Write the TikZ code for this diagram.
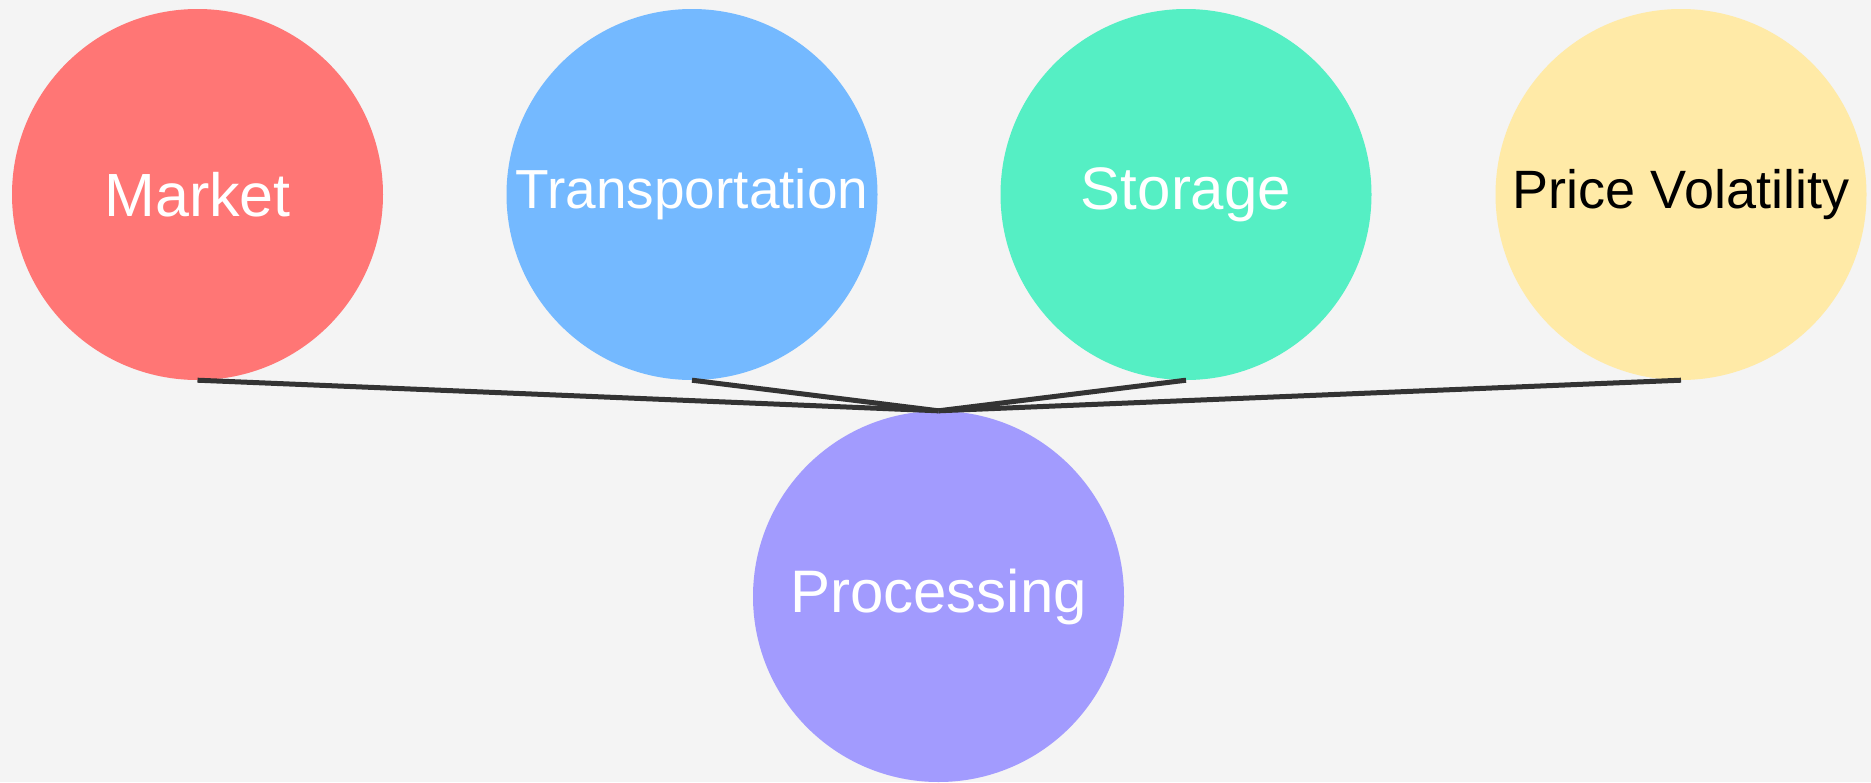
\documentclass[tikz,border=0pt]{standalone}
\usepackage{fontspec}
\setmainfont{Liberation Sans}
\definecolor{bg}{HTML}{F4F4F4}
\definecolor{cmarket}{HTML}{FF7675}
\definecolor{ctrans}{HTML}{74B9FF}
\definecolor{cstore}{HTML}{55EFC4}
\definecolor{cprice}{HTML}{FFEAA7}
\definecolor{cproc}{HTML}{A29BFE}
\definecolor{edgec}{HTML}{333333}
\tikzset{
  bubble/.style={circle, minimum size=371pt, inner sep=0pt, draw=none},
  link/.style={draw=edgec, line width=5pt},
}
\begin{document}
\begin{tikzpicture}[x=1pt,y=-1pt]
\fill[bg] (0,0) rectangle (1871,782);
\useasboundingbox (0,0) rectangle (1871,782);
\node[bubble, fill=cmarket, text=white, font=\fontsize{61}{70}\selectfont] (market) at (197.5,194.5) {Market};
\node[bubble, fill=ctrans, text=white, font=\fontsize{55}{64}\selectfont] (trans) at (692,194.5) {Transportation};
\node[bubble, fill=cstore, text=white, font=\fontsize{60}{70}\selectfont] (store) at (1186,194.5) {Storage};
\node[bubble, fill=cprice, text=black, font=\fontsize{54}{64}\selectfont] (price) at (1681,194.5) {Price Volatility};
\node[bubble, fill=cproc, text=white, font=\fontsize{60}{70}\selectfont] (proc) at (938.5,596.5) {Processing};
\draw[link] (market.south) -- (proc.north);
\draw[link] (trans.south) -- (proc.north);
\draw[link] (store.south) -- (proc.north);
\draw[link] (price.south) -- (proc.north);
\end{tikzpicture}
\end{document}
